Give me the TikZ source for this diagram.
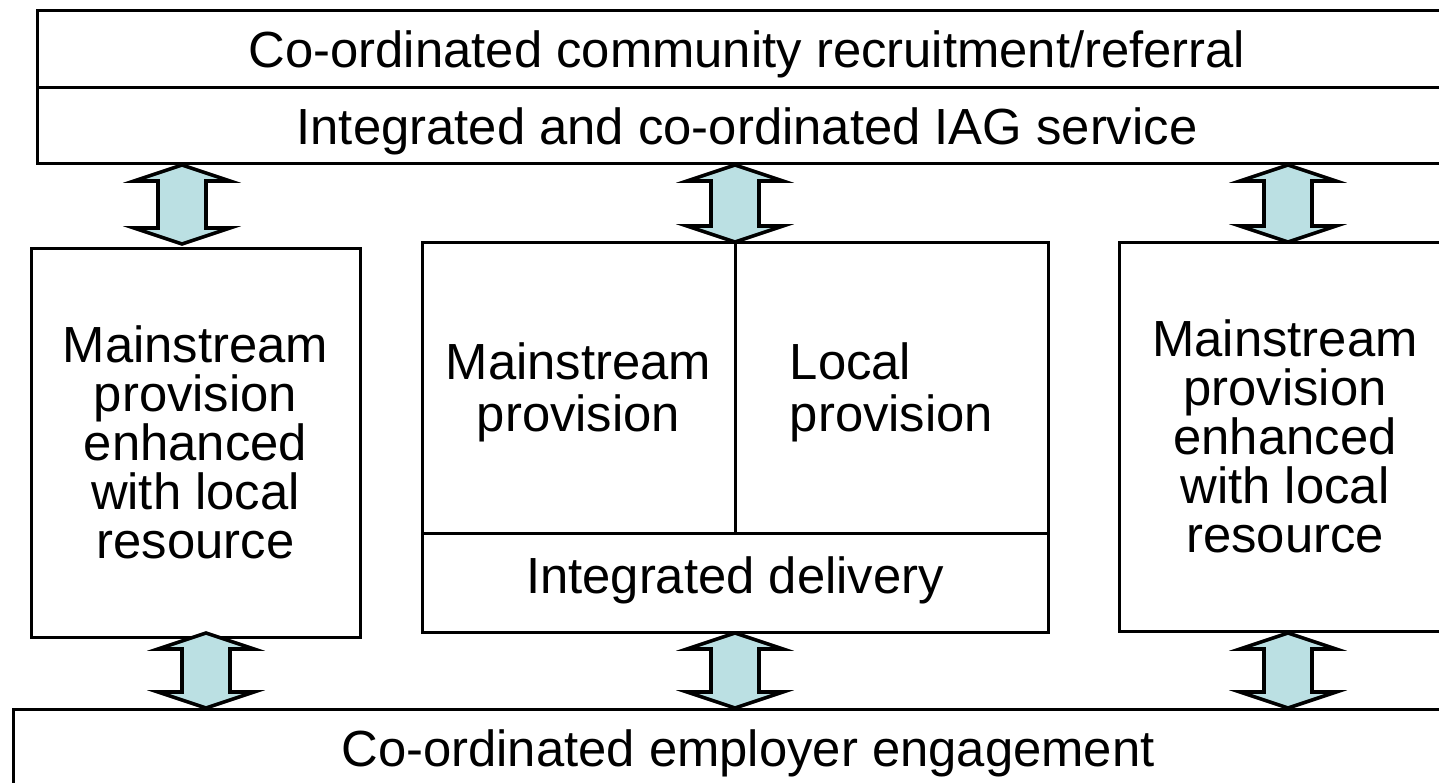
\documentclass[tikz,border=0pt]{standalone}
\usepackage{fontspec}
\setmainfont{Liberation Sans}
\usetikzlibrary{calc}
\definecolor{arrfill}{RGB}{187,224,227}
\tikzset{
  box/.style={draw=black, line width=3pt, rectangle, inner sep=0pt, align=center,
    font=\fontsize{50.8}{49}\selectfont},
  arr/.style={draw=black, line width=3.6pt, fill=arrfill, line join=miter, miter limit=10}
}
\newcommand\lowr[2]{\raisebox{-#1}[\height][\depth]{#2}}
\newcommand\dblarr[2]{\draw[arr] (#1) -- ($(#1)+(48,16)$) -- ($(#1)+(24,16)$) -- ($(#2)+(24,-16)$) -- ($(#2)+(48,-16)$) -- (#2) -- ($(#2)+(-48,-16)$) -- ($(#2)+(-24,-16)$) -- ($(#1)+(-24,16)$) -- ($(#1)+(-48,16)$) -- cycle;}
\begin{document}
\begin{tikzpicture}[x=1pt,y=-1pt]
\useasboundingbox (0,0) rectangle (1439,782);
\clip (0,0) rectangle (1439,782);
\fill[white] (0,0) rectangle (1439,782);
% top boxes
\node[box, minimum width=1420pt, minimum height=77pt] (topA) at (747,48.5) {\lowr{6pt}{Co-ordinated community recruitment/referral}};
\node[box, minimum width=1420pt, minimum height=76pt] (topB) at (747,125) {\lowr{6pt}{Integrated and co-ordinated IAG service}};
% left
\node[box, minimum width=329pt, minimum height=389pt] (left) at (195.5,442.5) {Mainstream\\provision\\enhanced\\with local\\resource};
% middle
\node[box, minimum width=313pt, minimum height=291pt] (midL) at (578.5,387.5) {\lowr{7pt}{\begin{tabular}{@{}c@{}}Mainstream\\provision\end{tabular}}};
\node[box, minimum width=313pt, minimum height=291pt] (midR) at (891.5,387.5) {\lowr{7pt}{\begin{tabular}{@{}l@{}}Local\\provision\end{tabular}}};
\node[box, minimum width=626pt, minimum height=99pt] (midD) at (735,582.5) {\lowr{-2pt}{Integrated delivery}};
% right
\node[box, minimum width=332pt, minimum height=389pt] (right) at (1285,436.5) {Mainstream\\provision\\enhanced\\with local\\resource};
% bottom
\node[box, minimum width=1470pt, minimum height=78pt] (bottom) at (748,748) {\lowr{5pt}{Co-ordinated employer engagement}};
% arrow end points
\coordinate (a1) at (182,165); \coordinate (b1) at (182,244);
\coordinate (a2) at (735,165); \coordinate (b2) at (735,242);
\coordinate (a3) at (1288,165); \coordinate (b3) at (1288,242);
\coordinate (c1) at (206,633); \coordinate (d1) at (206,708);
\coordinate (c2) at (735,633); \coordinate (d2) at (735,708);
\coordinate (c3) at (1288,633); \coordinate (d3) at (1288,708);
\dblarr{a1}{b1}
\dblarr{a2}{b2}
\dblarr{a3}{b3}
\dblarr{c1}{d1}
\dblarr{c2}{d2}
\dblarr{c3}{d3}
\end{tikzpicture}
\end{document}
